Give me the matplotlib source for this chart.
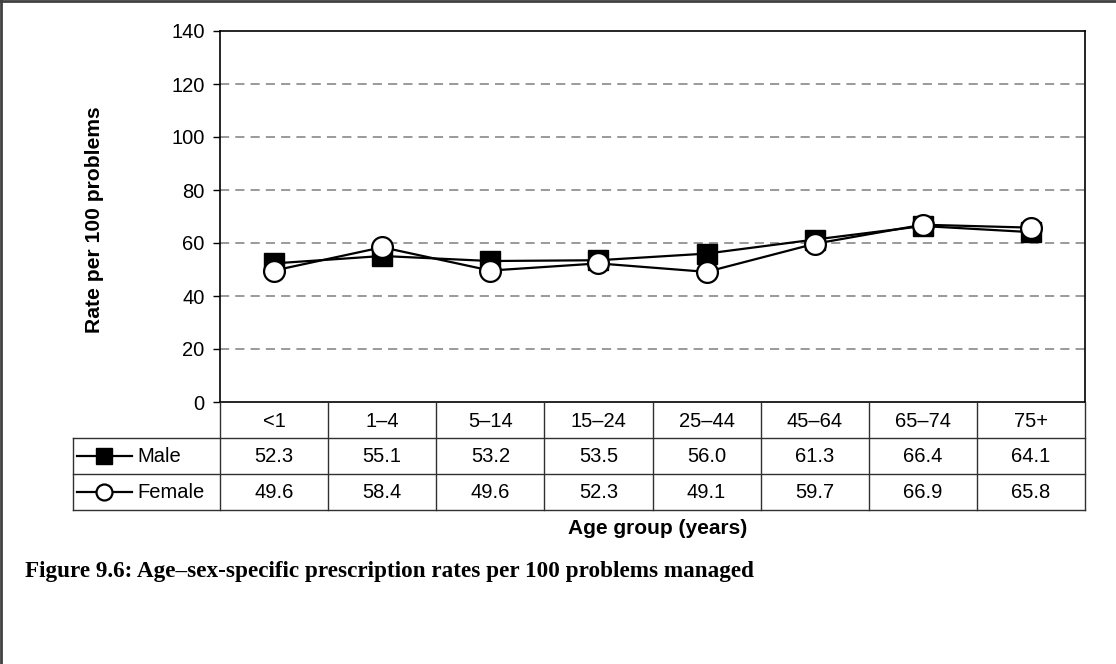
import matplotlib
matplotlib.use("Agg")
import matplotlib.pyplot as plt
from matplotlib.lines import Line2D

plt.rcParams['font.family'] = ['Liberation Sans', 'DejaVu Sans']

# data
age_groups = ['<1', '1–4', '5–14', '15–24', '25–44', '45–64', '65–74', '75+']
male = [52.3, 55.1, 53.2, 53.5, 56.0, 61.3, 66.4, 64.1]
female = [49.6, 58.4, 49.6, 52.3, 49.1, 59.7, 66.9, 65.8]
series_names = ['Male', 'Female']

W, H = 1116, 664
fig = plt.figure(figsize=(W / 100, H / 100), dpi=100)

def px(x0, y0, x1, y1):
    # pixel box -> figure fraction [left, bottom, width, height]
    return [x0 / W, 1 - y1 / H, (x1 - x0) / W, (y1 - y0) / H]

fs = 14.5
ax_l, ax_r, ax_t, ax_b = 220, 1085, 31, 402
ax = fig.add_axes(px(ax_l, ax_t, ax_r, ax_b))
x = list(range(len(age_groups)))

ax.plot(x, male, color='black', lw=1.6, marker='s', ms=14,
        mfc='black', mec='black', zorder=3)
ax.plot(x, female, color='black', lw=1.6, marker='o', ms=15,
        mfc='white', mec='black', mew=1.6, zorder=4)

ax.set_xlim(-0.5, len(age_groups) - 0.5)
ax.set_ylim(0, 140)
ax.set_yticks(range(0, 141, 20))
ax.set_xticks([])
for yv in range(20, 140, 20):
    ax.axhline(yv, color='#7f7f7f', lw=1.1, ls=(0, (6, 4)), zorder=1)
ax.tick_params(axis='y', length=5, width=1, pad=6, labelsize=fs)
for s in ax.spines.values():
    s.set_linewidth(1.2)
    s.set_color('black')
ax.set_ylabel('Rate per 100 problems', fontsize=15.2, fontweight='bold')
ax.yaxis.set_label_coords(104 / W, 1 - 220 / H, transform=fig.transFigure)

# data table under the axes
row_h = 36
tab_l = 73
tax = fig.add_axes(px(tab_l, ax_b, ax_r, ax_b + 3 * row_h))
col_w = (ax_r - ax_l) / len(age_groups)
left_x = -0.5 - (ax_l - tab_l) / col_w
tax.set_xlim(left_x, len(age_groups) - 0.5)
tax.set_ylim(3, 0)
tax.axis('off')

lc = dict(color='#303030', lw=1.0, clip_on=False)
for r in (1, 2, 3):
    tax.plot([left_x, len(age_groups) - 0.5], [r, r], **lc)
for i in range(len(age_groups) + 1):
    tax.plot([i - 0.5, i - 0.5], [0, 3], **lc)
tax.plot([left_x, left_x], [1, 3], **lc)

for i, lab in enumerate(age_groups):
    tax.text(i, 0.55, lab, ha='center', va='center', fontsize=fs)
    tax.text(i, 1.5, f'{male[i]:.1f}', ha='center', va='center', fontsize=fs)
    tax.text(i, 2.5, f'{female[i]:.1f}', ha='center', va='center', fontsize=fs)

# legend keys in the first column
k0 = left_x + 4 / col_w
k1 = left_x + 59 / col_w
km = (k0 + k1) / 2
tax.plot([k0, k1], [1.5, 1.5], color='black', lw=1.6, clip_on=False)
tax.plot([km], [1.5], marker='s', ms=11.5, mfc='black', mec='black', clip_on=False)
tax.plot([k0, k1], [2.5, 2.5], color='black', lw=1.6, clip_on=False)
tax.plot([km], [2.5], marker='o', ms=11.5, mfc='white', mec='black', mew=1.6, clip_on=False)
for r, name in enumerate(series_names):
    tax.text(left_x + 64 / col_w, 1.5 + r, name, ha='left', va='center', fontsize=fs)

fig.text(658 / W, 1 - 528 / H, 'Age group (years)', ha='center',
         va='center', fontsize=15, fontweight='bold')

fig.text(25 / W, 1 - 577 / H,
         'Figure 9.6: Age\u2013sex-specific prescription rates per 100 problems managed',
         ha='left', va='baseline', fontsize=16.7, fontweight='bold',
         family=['Liberation Serif', 'DejaVu Serif'])

# page frame (top and left edges)
fig.add_artist(Line2D([0, 1], [1 - 1 / H, 1 - 1 / H], transform=fig.transFigure,
                      color='#404040', lw=2))
fig.add_artist(Line2D([1 / W, 1 / W], [0, 1], transform=fig.transFigure,
                      color='#404040', lw=2))

fig.savefig('out.png', dpi=100)
